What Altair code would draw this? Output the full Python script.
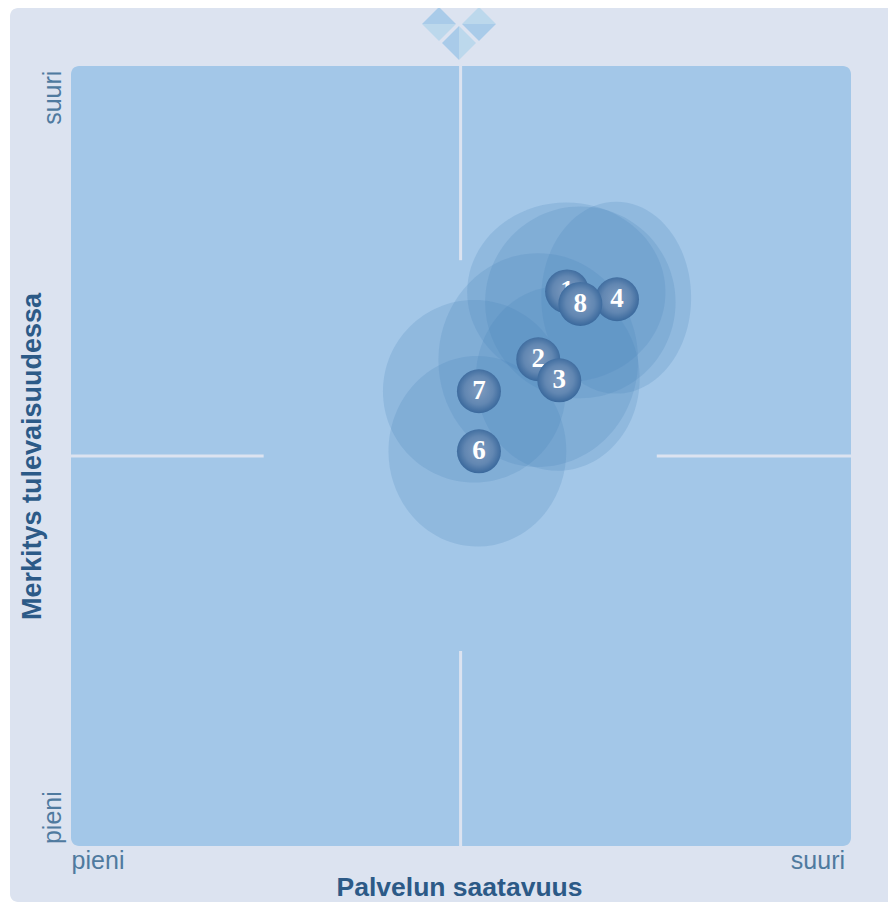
import altair as alt
import pandas as pd

# values in axis units (0-100)
ids = ["1", "2", "3", "4", "6", "7", "8"]
ball_x = [63.6, 59.9, 62.6, 70.0, 52.3, 52.3, 65.3]
ball_y = [71.1, 62.4, 59.7, 70.1, 50.6, 58.3, 69.5]
halo_x = [63.5, 59.9, 62.4, 69.9, 52.1, 51.7, 65.3]
halo_y = [71.0, 62.3, 59.9, 70.3, 50.6, 58.3, 69.7]
spread_x = [12.7, 12.8, 10.5, 9.6, 11.4, 11.7, 12.2]
spread_y = [11.5, 13.7, 11.8, 12.3, 12.2, 11.7, 12.3]
x_ticks = [3.4, 95.7]
y_ticks = [3.7, 96.0]
v_x = [49.95, 49.95]
v_y = [75.1, 0.0]
v_y2 = [100.0, 25.0]
h_y = [50.0, 50.0]
h_x = [0.0, 75.1]
h_x2 = [24.7, 100.0]

UNIT = 7.8
W = H = 780
OUTER = "#DCE3F0"
PLOT = "#A3C7E8"
dom = alt.Scale(domain=[0, 100], nice=False, zero=False)

font = "Liberation Sans"
common = dict(domain=False, ticks=False, grid=False, zindex=1,
              labelExpr="datum.value < 50 ? 'pieni' : 'suuri'", labelFont=font,
              labelFontSize=25, labelColor="#4F7A9F", titleFont=font,
              titleFontWeight="bold", titleColor="#2C5A87",
              titleBaseline="middle")
x_enc = alt.X("x:Q", scale=dom, axis=alt.Axis(title="Palvelun saatavuus", values=x_ticks, labelPadding=2,
                                               titleFontSize=26.5, titlePadding=0, titleX=388, titleY=41,
                                               **common))
y_enc = alt.Y("y:Q", scale=dom, axis=alt.Axis(title="Merkitys tulevaisuudessa", values=y_ticks, labelAngle=270,
                                               labelAlign="center", labelBaseline="bottom",
                                               titleFontSize=27, labelPadding=6, titleX=-39, titleY=390,
                                               **common))

outer = alt.Chart(pd.DataFrame({"a": [0]})).mark_rect(fill=OUTER, cornerRadius=8).encode(
    x=alt.value(-61), x2=alt.value(840), y=alt.value(-58), y2=alt.value(836))
plot = alt.Chart(pd.DataFrame({"x": [0], "x2": [100], "y": [0], "y2": [100]})).mark_rect(
    fill=PLOT, cornerRadius=8).encode(x=x_enc, x2="x2:Q", y=y_enc, y2="y2:Q")

v_df = pd.DataFrame({"x": v_x, "y": v_y, "y2": v_y2})
h_df = pd.DataFrame({"y": h_y, "x": h_x, "x2": h_x2})
v_rules = alt.Chart(v_df).mark_rule(color=OUTER, strokeWidth=3).encode(
    x=alt.X("x:Q", scale=dom), y=alt.Y("y:Q", scale=dom), y2="y2:Q")
h_rules = alt.Chart(h_df).mark_rule(color=OUTER, strokeWidth=3).encode(
    x=alt.X("x:Q", scale=dom), x2="x2:Q", y=alt.Y("y:Q", scale=dom))


def ellipse(rx, ry):
    a, b = rx * UNIT, ry * UNIT
    return f"M{-a:.1f},0A{a:.1f},{b:.1f} 0 1,1 {a:.1f},0A{a:.1f},{b:.1f} 0 1,1 {-a:.1f},0Z"


halo_df = pd.DataFrame({"x": halo_x, "y": halo_y,
                        "path": [ellipse(a, b) for a, b in zip(spread_x, spread_y)]})
halos = alt.Chart(halo_df).mark_point(filled=True, size=4, color="#4581B8", opacity=0.2).encode(
    x=alt.X("x:Q", scale=dom), y=alt.Y("y:Q", scale=dom),
    shape=alt.Shape("path:N", scale=None))

sphere = {"gradient": "radial", "x1": 0.5, "y1": 0.48, "x2": 0.5, "y2": 0.48, "r1": 0, "r2": 0.54,
          "stops": [{"offset": 0, "color": "#7F9CC0"}, {"offset": 0.6, "color": "#6287B2"},
                    {"offset": 1, "color": "#35659A"}]}
layers = [outer, plot, v_rules, h_rules, halos]
for i, bx, by in zip(ids, ball_x, ball_y):
    d = pd.DataFrame({"x": [bx], "y": [by], "t": [i]})
    layers.append(alt.Chart(d).mark_circle(size=1936, fill=sphere, opacity=1).encode(
        x=alt.X("x:Q", scale=dom), y=alt.Y("y:Q", scale=dom)))
    layers.append(alt.Chart(d).mark_text(font="Liberation Serif", fontWeight="bold", fontSize=27,
                                          color="white").encode(
        x=alt.X("x:Q", scale=dom), y=alt.Y("y:Q", scale=dom), text="t:N"))

# logo made of three split diamonds
S = 17
logo = [
    (368, -42, f"M{-S},0L0,{-S}L{S},0Z", "#A9CBE9"), (368, -42, f"M{-S},0L0,{S}L{S},0Z", "#BCD8EC"),
    (408, -42, f"M{-S},0L0,{-S}L{S},0Z", "#BCD8EC"), (408, -42, f"M{-S},0L0,{S}L{S},0Z", "#A9CBE9"),
    (388, -23, f"M0,{-S}L{-S},0L0,{S}Z", "#A9CBE9"), (388, -23, f"M0,{-S}L{S},0L0,{S}Z", "#BCD8EC"),
]
for lx, ly, p, c in logo:
    layers.append(alt.Chart(pd.DataFrame({"a": [0]})).mark_point(
        filled=True, size=4, shape=p, color=c, opacity=1).encode(x=alt.value(lx), y=alt.value(ly)))

chart = alt.layer(*layers).properties(
    width=W, height=H,
    padding={"left": 63, "top": 58, "right": 37, "bottom": 56},
    autosize=alt.AutoSizeParams(type="none"),
    background="white",
).configure_view(stroke=None)

chart.save("out.html", embed_options={"renderer": "svg", "actions": False})
